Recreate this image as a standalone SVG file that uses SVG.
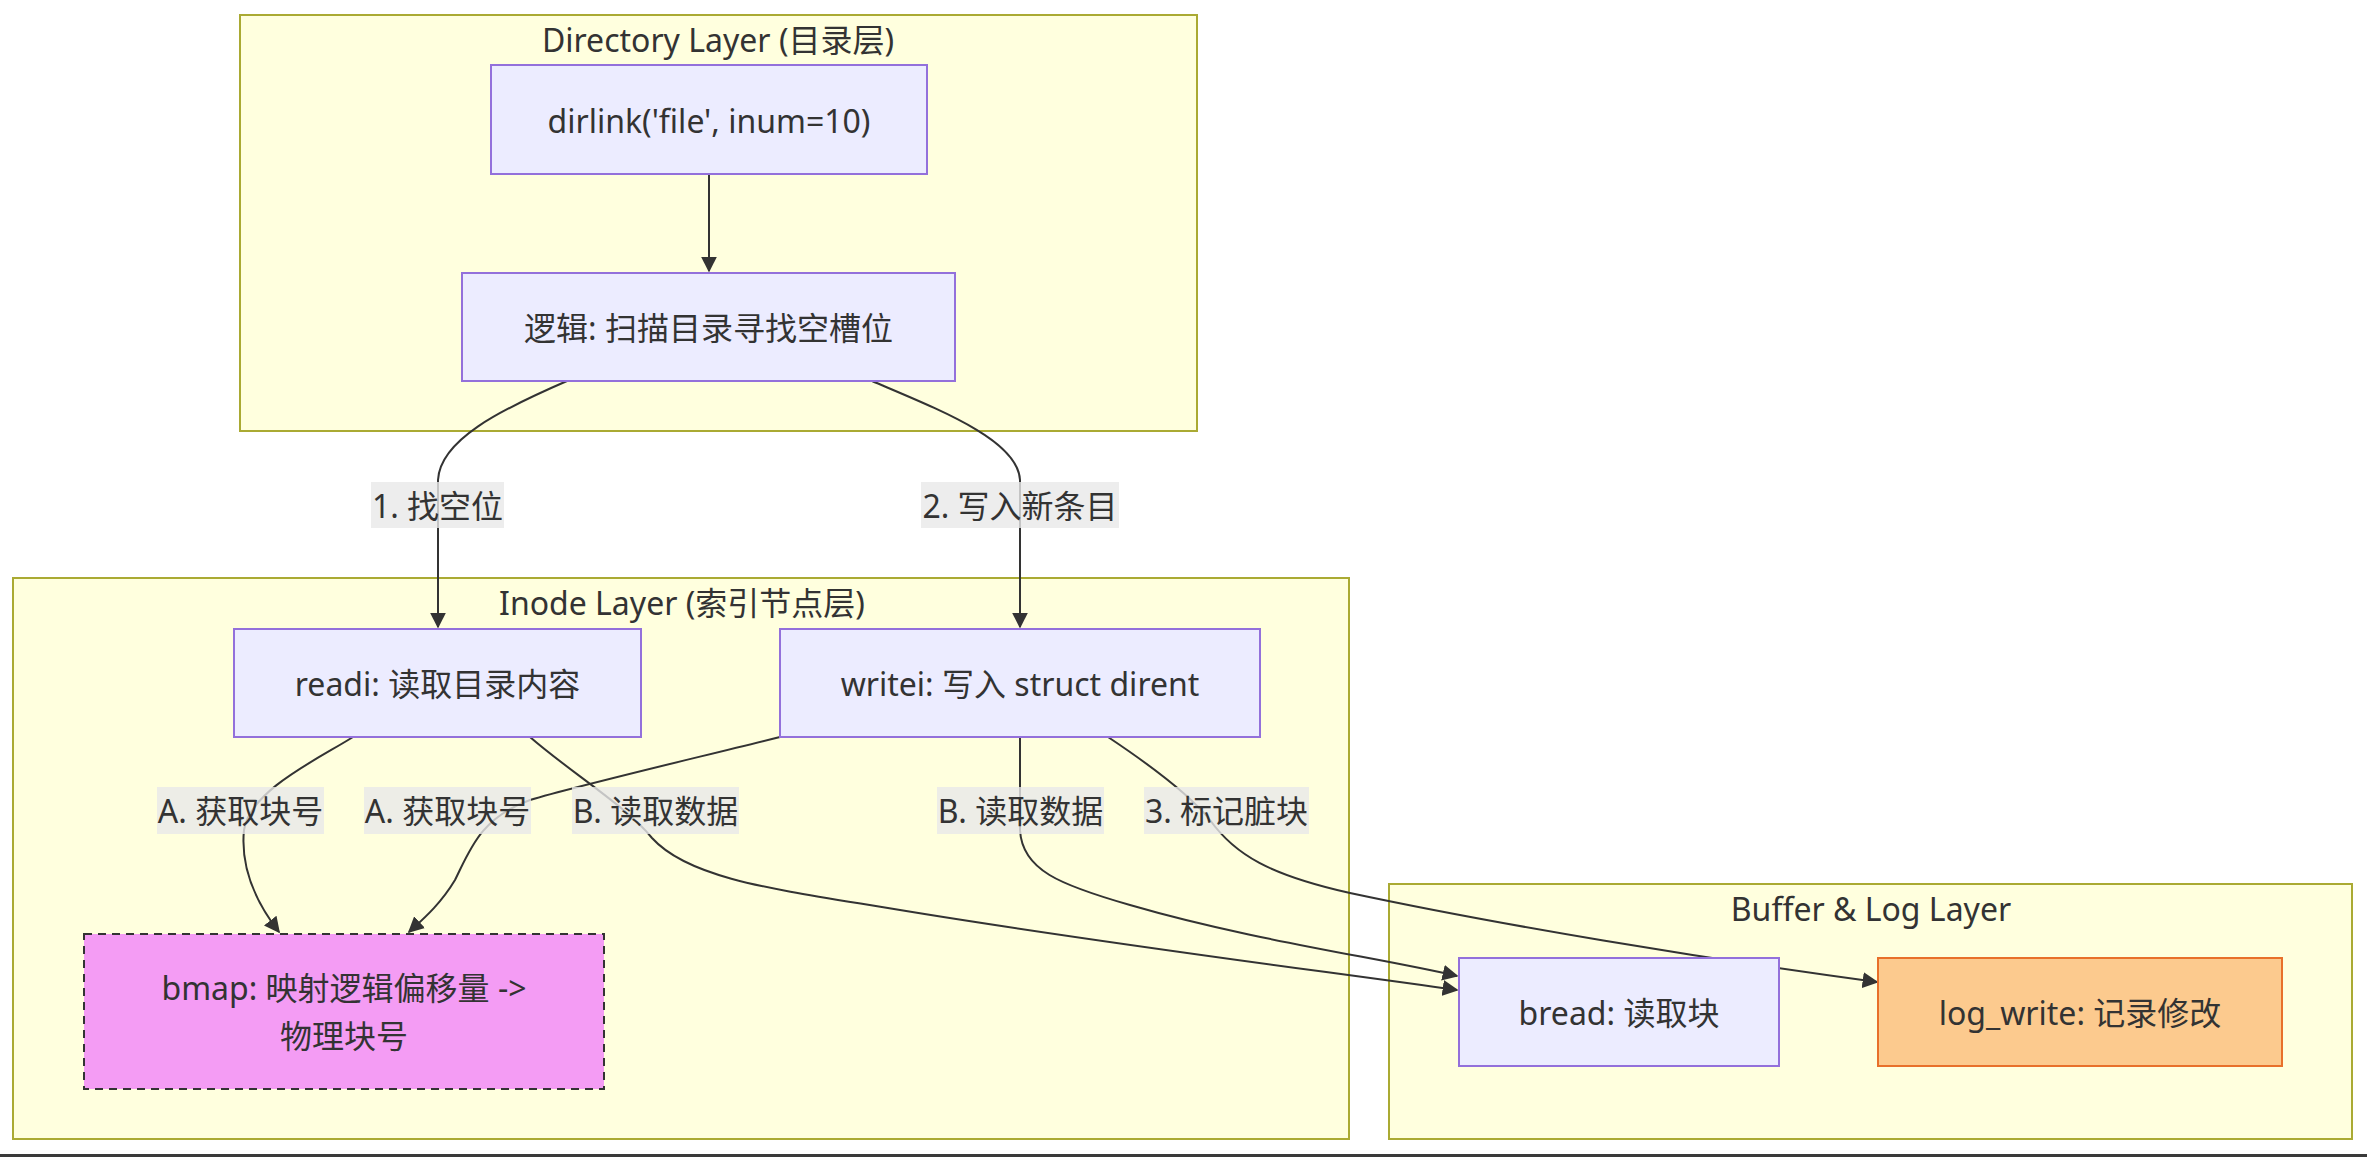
<svg xmlns="http://www.w3.org/2000/svg" width="2367" height="1157" viewBox="0 0 2367 1157">
<style>
text{font-family:"Noto Sans","Noto Sans CJK SC",sans-serif;font-size:32px;fill:#333;text-anchor:middle;dominant-baseline:central}
.cluster{fill:#ffffde;stroke:#aaaa33;stroke-width:2}
.node{fill:#ececff;stroke:#9370db;stroke-width:2}
.edge{fill:none;stroke:#333;stroke-width:2}
.lbl{fill:#e8e8e8;fill-opacity:0.8}
</style>
<defs>
<marker id="arr" viewBox="0 0 10 10" refX="9" refY="5" markerWidth="16" markerHeight="16" markerUnits="userSpaceOnUse" orient="auto">
<path d="M0,0 L10,5 L0,10 z" fill="#333"/>
</marker>
</defs>
<rect x="0" y="0" width="2367" height="1157" fill="#ffffff"/>
<g id="clusters">
<g id="directory-layer">
<rect class="cluster" x="240" y="15" width="957" height="416"/>
<text x="718" y="39">Directory Layer (目录层)</text>
</g>
<g id="inode-layer">
<rect class="cluster" x="13" y="578" width="1336" height="561"/>
<text x="682" y="602">Inode Layer (索引节点层)</text>
</g>
<g id="buffer-log-layer">
<rect class="cluster" x="1389" y="884" width="963" height="255"/>
<text x="1871" y="908">Buffer &amp; Log Layer</text>
</g>
</g>
<g id="connectors">
<path class="edge" d="M709,174 L709,271" marker-end="url(#arr)"/>
<path class="edge" d="M567,381 C500,410 440,440 438,480 L438,627" marker-end="url(#arr)"/>
<path class="edge" d="M872,381 C940,410 1018,440 1020,480 L1020,627" marker-end="url(#arr)"/>
<path class="edge" d="M353,737 C320,758 250,790 244,830 C240,870 258,905 279,932" marker-end="url(#arr)"/>
<path class="edge" d="M780,737 C700,757 580,785 530,800 C480,818 470,850 455,880 C440,905 422,920 409,932" marker-end="url(#arr)"/>
<path class="edge" d="M530,737 C570,772 625,805 652,838 C690,880 780,890 900,910 C1100,943 1300,968 1457,990" marker-end="url(#arr)"/>
<path class="edge" d="M1020,737 L1020,830 C1022,870 1060,885 1130,905 C1250,940 1380,958 1457,976" marker-end="url(#arr)"/>
<path class="edge" d="M1108,737 C1150,765 1190,795 1210,820 C1235,855 1270,875 1350,893 C1500,925 1700,958 1877,982" marker-end="url(#arr)"/>
</g>
<g id="edge-labels">
<g><rect class="lbl" x="371" y="482" width="133" height="46"/><text x="437.5" y="505">1. 找空位</text></g>
<g><rect class="lbl" x="921" y="482" width="198" height="46"/><text x="1020" y="505">2. 写入新条目</text></g>
<g><rect class="lbl" x="157" y="787" width="167" height="47"/><text x="240.5" y="810">A. 获取块号</text></g>
<g><rect class="lbl" x="364" y="787" width="167" height="47"/><text x="447.5" y="810">A. 获取块号</text></g>
<g><rect class="lbl" x="572" y="787" width="167" height="47"/><text x="655.5" y="810">B. 读取数据</text></g>
<g><rect class="lbl" x="937" y="787" width="167" height="47"/><text x="1020.5" y="810">B. 读取数据</text></g>
<g><rect class="lbl" x="1144" y="787" width="165" height="47"/><text x="1226.5" y="810">3. 标记脏块</text></g>
</g>
<g id="node-dirlink">
<rect class="node" x="491" y="65" width="436" height="109"/>
<text x="709" y="120">dirlink('file', inum=10)</text>
</g>
<g id="node-logic">
<rect class="node" x="462" y="273" width="493" height="108"/>
<text x="708.5" y="327">逻辑: 扫描目录寻找空槽位</text>
</g>
<g id="node-readi">
<rect class="node" x="234" y="629" width="407" height="108"/>
<text x="437.5" y="683">readi: 读取目录内容</text>
</g>
<g id="node-writei">
<rect class="node" x="780" y="629" width="480" height="108"/>
<text x="1020" y="683">writei: 写入 struct dirent</text>
</g>
<g id="node-bmap">
<rect x="84" y="934" width="520" height="155" fill="#f49cf4" stroke="#333" stroke-width="2" stroke-dasharray="8 6"/>
<text x="344" y="987">bmap: 映射逻辑偏移量 -&gt;</text>
<text x="344" y="1035">物理块号</text>
</g>
<g id="node-bread">
<rect class="node" x="1459" y="958" width="320" height="108"/>
<text x="1619" y="1012">bread: 读取块</text>
</g>
<g id="node-logwrite">
<rect x="1878" y="958" width="404" height="108" fill="#fcca8e" stroke="#e8702a" stroke-width="2"/>
<text x="2080" y="1012">log_write: 记录修改</text>
</g>
<rect x="0" y="1154" width="2367" height="3" fill="#3a3a3a"/>
</svg>
